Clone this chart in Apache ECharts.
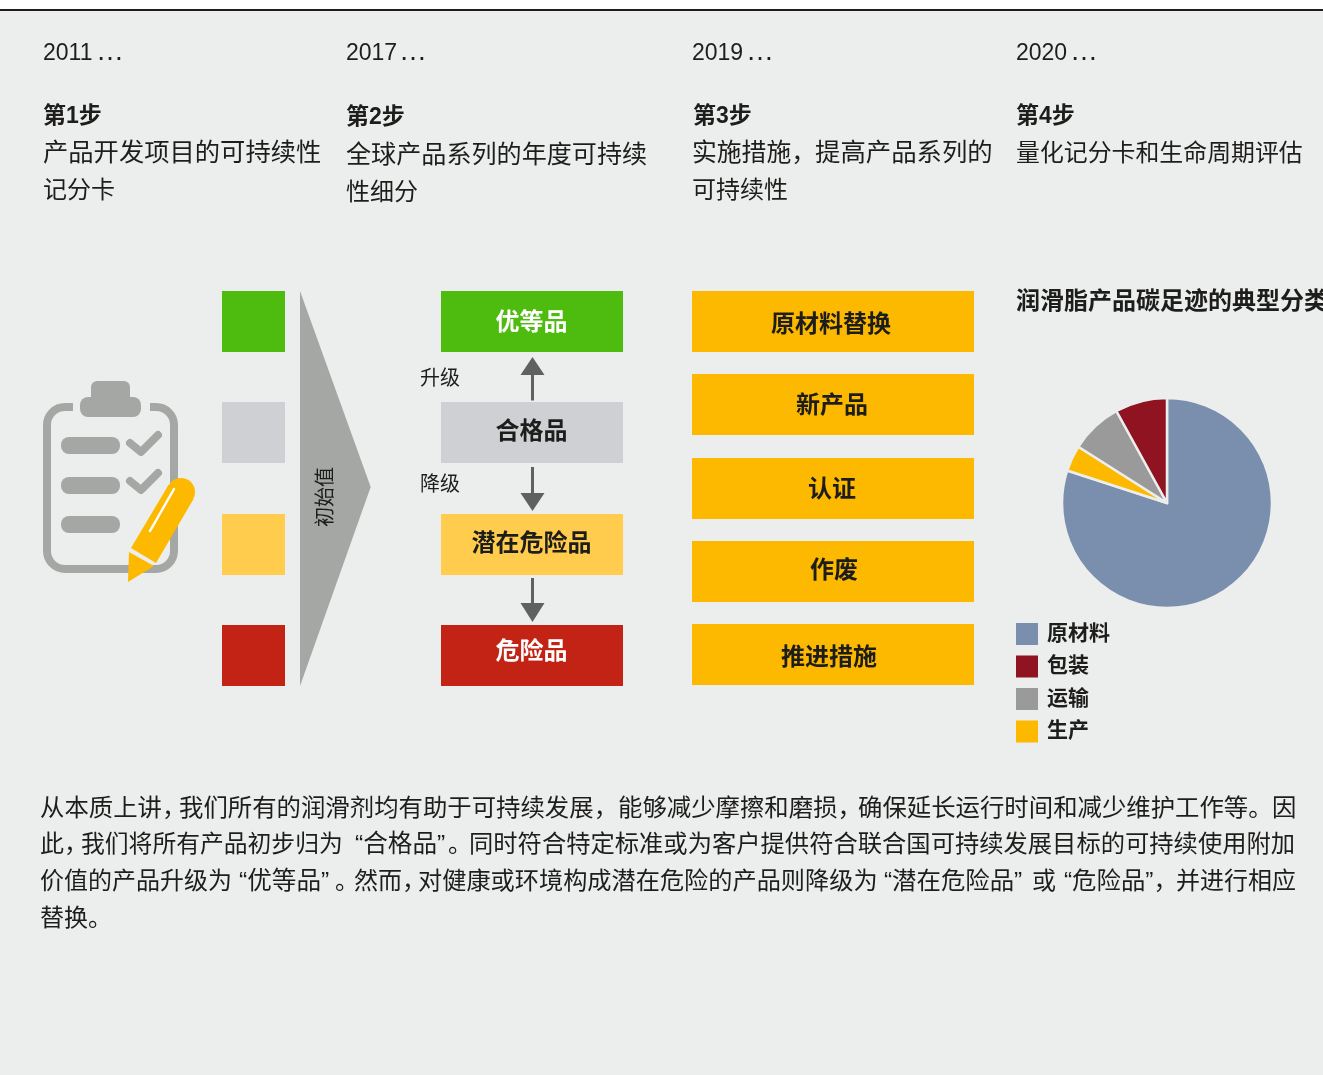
<!DOCTYPE html>
<html>
<head>
<meta charset="utf-8">
<title>可持续性产品分类</title>
<style>
html, body { margin: 0; padding: 0; background: #eceeed; }
#chart { width: 1323px; height: 1075px; }
</style>
<script src="https://cdn.jsdelivr.net/npm/echarts@6/dist/echarts.min.js"></script>
</head>
<body>
<div id="chart"></div>
<script>
// pie data
const pieNames = ['原材料', '生产', '运输', '包装'];
const pieValues = [80, 4, 8, 8];
const pieColors = ['#7a8fad', '#fdb900', '#9a9a9a', '#8f1320'];
const legendOrder = ['原材料', '包装', '运输', '生产'];

const years = ['2011', '2017', '2019', '2020'];
const steps = ['第1步', '第2步', '第3步', '第4步'];
const tiers = ['优等品', '合格品', '潜在危险品', '危险品'];
const actions = ['原材料替换', '新产品', '认证', '作废', '推进措施'];
const pieTitle = '润滑脂产品碳足迹的典型分类';

const BG = '#eceeed';
const GREY = '#a5a7a5';
const ARROW = '#606060';
const INK = '#1d1d1b';
const FONT = '"Liberation Sans", "Noto Sans CJK SC", sans-serif';
const tierColors = ['#4ebc0e', '#cfd0d4', '#ffcc4d', '#c22314'];
const tierInk = ['#fff', INK, INK, '#fff'];
const tierY = [291, 402, 514, 625];
const tierLabelY = [321, 430, 542, 650];
const actionY = [291, 374, 458, 541, 624];
const actionLabel = [[831, 323], [832, 404], [832, 488], [834, 569], [829, 656]];

const els = [];

function label(text, x, y, size, opts) {
  opts = opts || {};
  els.push({
    type: 'text', x: x, y: y + 2, rotation: opts.rotation || 0, silent: true,
    style: {
      text: text, fill: opts.fill || INK,
      font: (opts.bold ? 'bold ' : '') + size + 'px ' + FONT,
      textAlign: opts.align || 'left', textVerticalAlign: 'middle'
    }
  });
}
function box(x, y, w, h, fill, r) {
  els.push({ type: 'rect', silent: true, shape: { x: x, y: y, width: w, height: h, r: r || 0 }, style: { fill: fill } });
}
function poly(points, fill) {
  els.push({ type: 'polygon', silent: true, shape: { points: points }, style: { fill: fill } });
}
function stroke(points, color, width) {
  els.push({
    type: 'polyline', silent: true, shape: { points: points },
    style: { stroke: color, lineWidth: width, lineCap: 'round', lineJoin: 'round', fill: 'none' }
  });
}

// top rule
box(0, 0, 1323, 10, '#ffffff');
box(0, 9, 1323, 2, '#1d1d1b');

// step headers
const colX = [43, 346, 692, 1016];
const dotsX = [96, 399, 746, 1070];
years.forEach(function (t, i) {
  label(t, colX[i], 51.5, 23);
  label('…', dotsX[i], 50.5, 28);
});
const stepX = [43, 346, 693, 1016];
const stepY = [115, 116, 115, 115];
steps.forEach(function (t, i) { label(t, stepX[i], stepY[i], 23, { bold: true }); });

label('产品开发项目的可持续性', 43, 152, 25.3);
label('记分卡', 43, 189, 24);
label('全球产品系列的年度可持续', 346, 154, 25.1);
label('性细分', 346, 191, 24);
label('实施措施，', 692, 152, 24.8);
label('提高产品系列的', 815, 152, 25.4);
label('可持续性', 692, 189, 24);
label('量化记分卡和生命周期评估', 1016, 152, 23.9);

// clipboard icon
els.push({
  type: 'rect', silent: true, shape: { x: 47, y: 407, width: 127, height: 162, r: 18 },
  style: { fill: 'none', stroke: GREY, lineWidth: 8 }
});
box(73, 400, 77, 14, BG);
box(91, 381, 39, 24, GREY, 6);
box(80, 397, 61, 20, GREY, 8);
box(61, 437, 59, 17, GREY, 8);
box(61, 477, 59, 17, GREY, 8);
box(61, 516, 59, 17, GREY, 8);
stroke([[130, 443], [141, 452], [158, 435]], GREY, 8);
stroke([[130, 481], [141, 490], [158, 473]], GREY, 8);
// pencil
els.push({ type: 'circle', silent: true, shape: { cx: 181, cy: 492, r: 14 }, style: { fill: '#fdb900' } });
poly([[168.5, 485], [193.5, 499], [156, 563], [131, 548]], '#fdb900');
poly([[129, 552], [154, 566], [128, 582]], '#fdb900');
stroke([[174, 489], [150, 531]], '#ffffff', 2.5);

// left swatches and wedge
tierY.forEach(function (y, i) { box(222, y, 63, 61, tierColors[i]); });
poly([[300, 291], [370.7, 487], [300, 686]], GREY);
label('初始值', 326, 495, 20, { rotation: Math.PI / 2, align: 'center' });

// tier ladder
tierY.forEach(function (y, i) {
  box(441, y, 182, 61, tierColors[i]);
  label(tiers[i], 531.5, tierLabelY[i], 24, { bold: true, fill: tierInk[i], align: 'center' });
});
function arrow(from, base, tip) {
  els.push({ type: 'line', silent: true, shape: { x1: 532.5, y1: from, x2: 532.5, y2: base }, style: { stroke: ARROW, lineWidth: 3 } });
  poly([[520.5, base], [544.5, base], [532.5, tip]], ARROW);
}
arrow(400.5, 375, 357);
arrow(467, 493, 511);
arrow(578, 603, 622);
label('升级', 420, 377, 20);
label('降级', 420, 483, 20);

// measures
actionY.forEach(function (y, i) {
  box(692, y, 282, 61, '#fdb900');
  label(actions[i], actionLabel[i][0], actionLabel[i][1], 24, { bold: true, align: 'center' });
});

// closing paragraph, one entry per justified run
[
  ['从本质上讲，', 40, 807, 24.4],
  ['我们所有的润滑剂均有助于可持续发展，', 179, 807, 24.4],
  ['能够减少摩擦和磨损，', 618, 807, 24.4],
  ['确保延长运行时间和减少维护工作等。', 858, 807, 24.4],
  ['因', 1272, 807, 24.4],
  ['此，', 40, 843, 24],
  ['我们将所有产品初步归为', 81, 843, 23.8],
  ['“合格品”', 355, 843, 24.6],
  ['。', 448, 843, 24],
  ['同时符合特定标准或为客户提供符合联合国可持续发展目标的可持续使用附加', 469, 843, 24.3],
  ['价值的产品升级为', 40, 880, 24],
  ['“优等品”', 239, 880, 24.6],
  ['。', 335, 880, 24],
  ['然而，', 354, 880, 24],
  ['对健康或环境构成潜在危险的产品则降级为', 418, 880, 24.2],
  ['“潜在危险品”', 884, 880, 24.4],
  ['或', 1032, 880, 24],
  ['“危险品”，', 1064, 880, 24.4],
  ['并进行相应', 1176, 880, 24],
  ['替换。', 40, 917, 24]
].forEach(function (r) { label(r[0], r[1], r[2], r[3]); });

const option = {
  animation: false,
  backgroundColor: BG,
  title: {
    text: pieTitle, left: 1016, top: 290, padding: 0,
    textStyle: { color: INK, fontFamily: FONT, fontWeight: 'bold', fontSize: 24 }
  },
  legend: {
    orient: 'vertical', left: 1016, top: 623, padding: 0,
    itemWidth: 22, itemHeight: 22, itemGap: 10.5,
    icon: 'rect', selectedMode: false,
    itemStyle: { borderWidth: 0 },
    data: legendOrder,
    textStyle: { color: INK, fontFamily: FONT, fontWeight: 'bold', fontSize: 21, padding: [0, 0, 0, 4] }
  },
  graphic: { elements: els },
  series: [{
    type: 'pie',
    center: [1167, 503],
    radius: 105,
    startAngle: 90,
    silent: true,
    label: { show: false },
    labelLine: { show: false },
    color: pieColors,
    itemStyle: { borderColor: BG, borderWidth: 2.5 },
    data: pieNames.map(function (n, i) { return { name: n, value: pieValues[i] }; })
  }]
};

const chart = echarts.init(document.getElementById('chart'));
chart.setOption(option);
</script>
</body>
</html>
